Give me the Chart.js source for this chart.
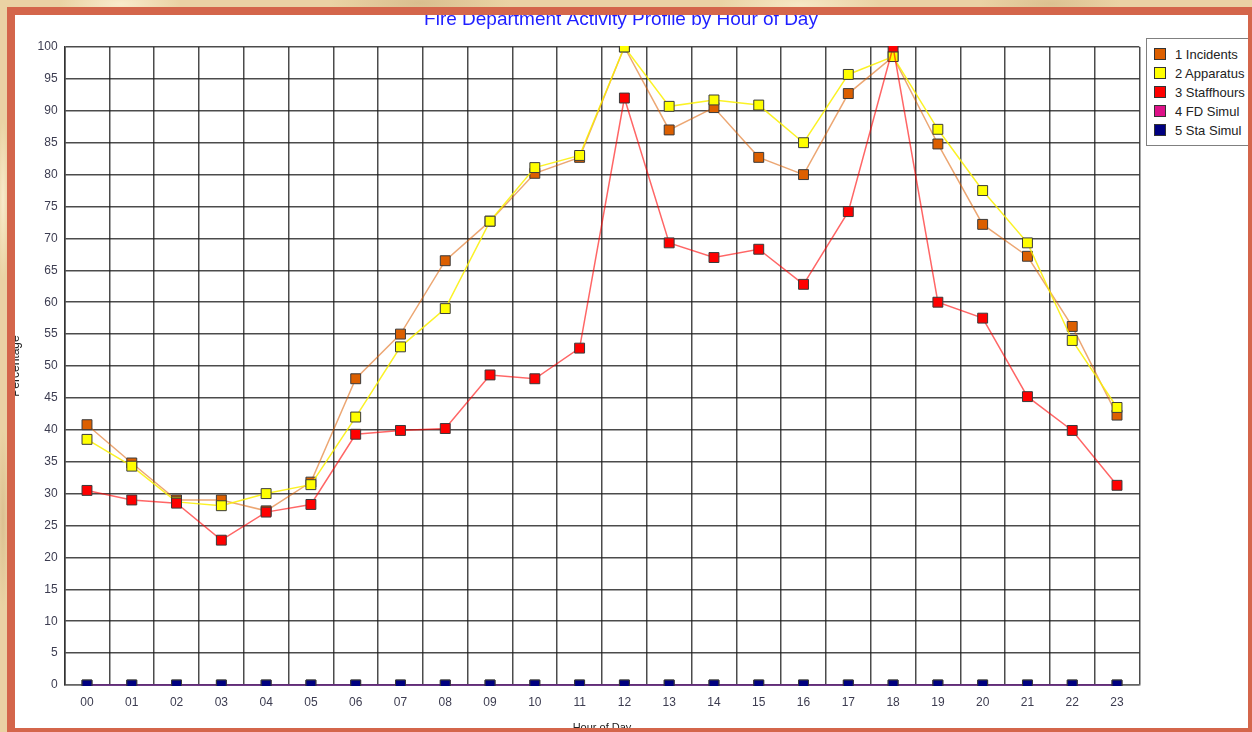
<!DOCTYPE html>
<html>
<head>
<meta charset="utf-8">
<title>Fire Department Activity Profile by Hour of Day</title>
<script src="https://cdn.jsdelivr.net/npm/chart.js@4.4.0/dist/chart.umd.min.js"></script>
<style>
    html, body { margin: 0; padding: 0; }
    body {
        width: 1252px; height: 732px; overflow: hidden; position: relative;
        background-color: #ead2a4;
        background-image:
            radial-gradient(ellipse 60px 20px at 120px 4px, rgba(255,245,220,0.7), transparent),
            radial-gradient(ellipse 90px 25px at 420px 3px, rgba(200,170,120,0.5), transparent),
            radial-gradient(ellipse 80px 20px at 800px 5px, rgba(255,245,220,0.6), transparent),
            radial-gradient(ellipse 70px 20px at 1050px 4px, rgba(205,175,125,0.5), transparent),
            radial-gradient(ellipse 6px 80px at 3px 200px, rgba(255,245,220,0.7), transparent),
            radial-gradient(ellipse 6px 90px at 3px 520px, rgba(205,175,125,0.5), transparent);
    }
    #sheet { position: absolute; left: 15px; top: 15px; width: 1233px; height: 713px; background: #fff; z-index: 0; }
    #chart { position: absolute; left: 0; top: 0; z-index: 1; }
    #legend {
        position: absolute; left: 1146px; top: 38px; width: 118px; height: 106px;
        border: 1px solid #808080; background: #fff; z-index: 2;
        font-family: 'Liberation Sans', Arial, sans-serif; font-size: 13px; color: #222;
    }
    #legend .item { position: absolute; left: 7px; height: 15px; line-height: 15px; white-space: nowrap; }
    #legend .swatch { display: inline-block; width: 12px; height: 12px; border: 1px solid #333; box-sizing: border-box; vertical-align: -1px; margin-right: 9px; }
    #frame { position: absolute; left: 7px; top: 7px; width: 1249px; height: 729px; border: 8px solid #d4664b; box-sizing: border-box; z-index: 3; pointer-events: none; }
</style>
</head>
<body>
<div id="sheet"></div>
<canvas id="chart" width="1252" height="732"></canvas>
<div id="legend"></div>
<div id="frame"></div>
<script>
// Chart data
// ------------------------------
var chartTitle = 'Fire Department Activity Profile by Hour of Day';
var hours = ['00','01','02','03','04','05','06','07','08','09','10','11',
             '12','13','14','15','16','17','18','19','20','21','22','23'];

var seriesNames = ['1 Incidents', '2 Apparatus', '3 Staffhours', '4 FD Simul', '5 Sta Simul'];
var seriesColors = ['#dc5f00', '#ffff00', '#ff0000', '#dd1188', '#000080'];
var lineColors = ['rgba(220,95,0,0.55)', 'rgba(250,240,0,0.85)', 'rgba(255,0,0,0.6)', 'rgba(221,17,136,0.5)', 'rgba(0,0,128,0.45)'];

var incidents  = [40.8, 34.8, 29.0, 29.0, 27.3, 31.8, 48.0, 55.0, 66.5, 72.7, 80.2, 82.7,
                  100, 87.0, 90.5, 82.7, 80.0, 92.7, 98.5, 84.8, 72.2, 67.2, 56.2, 42.3];
var apparatus  = [38.5, 34.3, 28.7, 28.1, 30.0, 31.4, 42.0, 53.0, 59.0, 72.7, 81.1, 83.0,
                  100, 90.7, 91.7, 90.9, 85.0, 95.7, 98.5, 87.1, 77.5, 69.3, 54.0, 43.5];
var staffhours = [30.5, 29.0, 28.5, 22.7, 27.1, 28.3, 39.3, 39.9, 40.2, 48.6, 48.0, 52.8,
                  92.0, 69.3, 67.0, 68.3, 62.8, 74.2, 100, 60.0, 57.5, 45.2, 39.9, 31.3];
var fdSimul    = [0, 0, 0, 0, 0, 0, 0, 0, 0, 0, 0, 0, 0, 0, 0, 0, 0, 0, 0, 0, 0, 0, 0, 0];
var staSimul   = [0, 0, 0, 0, 0, 0, 0, 0, 0, 0, 0, 0, 0, 0, 0, 0, 0, 0, 0, 0, 0, 0, 0, 0];

var seriesValues = [incidents, apparatus, staffhours, fdSimul, staSimul];

var fontFamily = "'Liberation Sans', Arial, sans-serif";
var tickFont = { family: fontFamily, size: 12 };
var tickColor = '#3c3c50';
var gridColor = 'rgba(30,30,30,0.8)';

var datasets = [];
for (var i = 0; i < seriesNames.length; i++) {
    datasets.push({
        label: seriesNames[i],
        data: seriesValues[i],
        borderColor: lineColors[i],
        borderWidth: 1.5,
        backgroundColor: seriesColors[i],
        pointStyle: 'rect',
        pointRadius: 7,
        pointBorderColor: '#3a3a3a',
        pointBorderWidth: 1,
        tension: 0,
        fill: false,
        // markers on 0 and 100 get cut at the plot edge
        clip: { left: 10, top: 1, right: 10, bottom: 1 },
        // later series sit on top, like in the original
        order: seriesNames.length - i
    });
}

var chartOptions = {
    responsive: false,
    animation: false,
    layout: { padding: { left: 0, right: 10, top: 0, bottom: 0 } },
    plugins: {
        legend: { display: false },
        tooltip: { enabled: false },
        title: {
            display: true,
            text: chartTitle,
            color: '#1f1fff',
            font: { family: fontFamily, size: 19, weight: 'normal' },
            padding: { top: 8, bottom: 16.2 }
        }
    },
    scales: {
        x: {
            offset: true,
            grid: { offset: true, color: gridColor, lineWidth: 1.5, drawTicks: false },
            border: { color: '#666', width: 1.5 },
            ticks: { color: tickColor, font: tickFont, padding: 10, maxRotation: 0 },
            title: { display: true, text: 'Hour of Day', color: '#222', font: { family: fontFamily, size: 11 }, padding: { top: 0, bottom: -3 } },
            afterFit: function (scale) { scale.height = 47; }
        },
        y: {
            min: 0,
            max: 100,
            grid: { color: gridColor, lineWidth: 1.5, drawTicks: false },
            border: { color: '#333', width: 1.5 },
            ticks: { stepSize: 5, color: tickColor, font: tickFont, padding: 7 },
            title: { display: true, text: 'Percentage', color: '#222', font: { family: fontFamily, size: 12 }, padding: { top: 8, bottom: 0 } },
            afterFit: function (scale) { scale.width = 64.6; }
        },
        // keeps room on the right for the legend box
        yRight: {
            position: 'right',
            display: true,
            grid: { display: false },
            border: { display: false },
            ticks: { display: false },
            afterFit: function (scale) { scale.width = 102.6; }
        }
    }
};

var ctx = document.getElementById('chart');
var fireChart = new Chart(ctx, {
    type: 'line',
    data: { labels: hours, datasets: datasets },
    options: chartOptions
});

// Legend
var legendBox = document.getElementById('legend');
for (var j = 0; j < seriesNames.length; j++) {
    var item = document.createElement('div');
    item.className = 'item';
    item.style.top = (8 + j * 19) + 'px';
    item.innerHTML = '<span class="swatch" style="background:' + seriesColors[j] + '"></span>' + seriesNames[j];
    legendBox.appendChild(item);
}
</script>
</body>
</html>
